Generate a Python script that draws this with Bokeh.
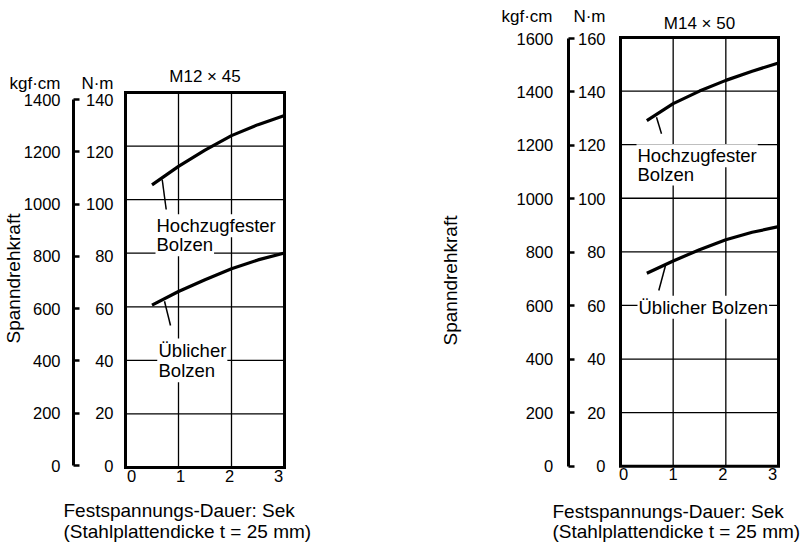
import math
from bokeh.plotting import figure
from bokeh.models import Range1d, LinearAxis, FixedTicker, Label
from bokeh.layouts import row
from bokeh.embed import file_html
from bokeh.resources import INLINE

FONT = "Liberation Sans"

# ---------------- data ----------------
time_s = [0.5, 1.0, 1.5, 2.0, 2.5, 3.0]
m12_high_nm = [105.5, 112.4, 118.5, 123.9, 128.0, 131.4]
m12_std_nm = [60.6, 65.7, 70.1, 74.2, 77.5, 80.1]
m14_high_nm = [129.0, 135.3, 140.0, 144.0, 147.4, 150.5]
m14_std_nm = [72.0, 76.6, 80.8, 84.5, 87.3, 89.4]

x_ticks = [0, 1, 2, 3]
m12_nm_ticks = [0, 20, 40, 60, 80, 100, 120, 140]
m12_kgf_ticks = [0, 200, 400, 600, 800, 1000, 1200, 1400]
m14_nm_ticks = [0, 20, 40, 60, 80, 100, 120, 140, 160]
m14_kgf_ticks = [0, 200, 400, 600, 800, 1000, 1200, 1400, 1600]

titles = ["M12 \u00d7 45", "M14 \u00d7 50"]
unit_kgf = "kgf\u00b7cm"
unit_nm = "N\u00b7m"
y_label = "Spanndrehkraft"
x_label_1 = "Festspannungs-Dauer: Sek"
x_label_2 = "(Stahlplattendicke t = 25 mm)"
lbl_high = ["Hochzugfester", "Bolzen"]
lbl_std = ["\u00dcblicher", "Bolzen"]

H = 545


def make_panel(cfg, nm_ticks, kgf_ticks, high, std, title):
    ox, W = cfg["origin"], cfg["W"]
    L, R, T, B = cfg["box"]
    ymax = nm_ticks[-1]
    xmax = x_ticks[-1]
    sx = (R - L) / xmax
    sy = (B - T) / ymax

    def X(px):
        return (px - L) / sx

    def Y(py):
        return (B - py) / sy

    p = figure(width=W, height=H,
               x_range=Range1d(X(ox), X(ox + W)), y_range=Range1d(Y(H), Y(0)),
               x_axis_location=None, y_axis_location=None,
               output_backend="svg", toolbar_location=None,
               min_border_left=0, min_border_right=0, min_border_top=0, min_border_bottom=0)
    p.background_fill_color = "white"
    p.border_fill_color = "white"
    p.outline_line_color = None
    p.grid.visible = False

    # scales used by the tick labels
    o0, oT = cfg["outer"]
    so = (o0 - oT) / ymax
    xt0, xt3 = cfg["xt"]
    sxt = (xt3 - xt0) / xmax
    p.extra_y_ranges = {
        "nm": Range1d((o0 - H) / so, o0 / so),
        "kgf": Range1d((o0 - H) / so * 10, o0 / so * 10),
    }
    p.extra_x_ranges = {"xt": Range1d((ox - xt0) / sxt, (ox + W - xt0) / sxt)}

    # grid lines inside the box
    inner_x = x_ticks[1:-1]
    inner_y = nm_ticks[1:-1]
    p.segment(x0=inner_x, y0=[0] * len(inner_x), x1=inner_x, y1=[ymax] * len(inner_x),
              line_color="black", line_width=1.3)
    p.segment(x0=[0] * len(inner_y), y0=inner_y, x1=[xmax] * len(inner_y), y1=inner_y,
              line_color="black", line_width=1.3)

    # curves
    p.line(time_s, high, line_width=3.2, line_color="black", line_join="round")
    p.line(time_s, std, line_width=3.2, line_color="black", line_join="round")

    # plot box
    p.quad(left=[x_ticks[0]], right=[xmax], bottom=[nm_ticks[0]], top=[ymax],
           fill_color=None, line_color="black", line_width=3, line_join="miter")

    # leader lines (annotation pointers)
    for (ax0, ay0, ax1, ay1) in cfg["leaders"]:
        p.segment(x0=[X(ax0)], y0=[Y(ay0)], x1=[X(ax1)], y1=[Y(ay1)],
                  line_color="black", line_width=1.5)

    # axes
    ax_x = LinearAxis(x_range_name="xt", fixed_location=0, ticker=FixedTicker(ticks=x_ticks),
                      axis_line_color=None, major_tick_line_color=None,
                      minor_tick_line_color=None, major_tick_in=0, major_tick_out=0,
                      major_label_standoff=2, major_label_text_font=FONT,
                      major_label_text_font_size="16.5px", major_label_text_color="black")
    p.add_layout(ax_x, "below")

    ax_nm = LinearAxis(y_range_name="nm", fixed_location=0, ticker=FixedTicker(ticks=nm_ticks),
                       axis_line_color=None, major_tick_line_color=None,
                       minor_tick_line_color=None, major_tick_out=0, major_tick_in=0,
                       major_label_standoff=cfg["nm_standoff"],
                       major_label_text_font=FONT, major_label_text_font_size="16.5px",
                       major_label_text_color="black")
    p.add_layout(ax_nm, "left")

    ax_kgf = LinearAxis(y_range_name="kgf", fixed_location=X(cfg["outer_x"]),
                        ticker=FixedTicker(ticks=kgf_ticks),
                        bounds=(kgf_ticks[0], kgf_ticks[-1]),
                        axis_line_color="black", axis_line_width=3,
                        major_tick_line_color="black", major_tick_line_width=2.5,
                        major_tick_in=6, major_tick_out=0,
                        minor_tick_line_color=None,
                        major_label_standoff=cfg["kgf_standoff"],
                        major_label_text_font=FONT, major_label_text_font_size="16.5px",
                        major_label_text_color="black")
    p.add_layout(ax_kgf, "left")

    # curve labels (second line first so the first line's descenders stay visible)
    for (txt, px, py) in reversed(cfg["labels"]):
        p.add_layout(Label(x=X(px), y=Y(py), text=txt, text_font=FONT, text_font_size="18.5px",
                           text_color="black", text_align="left", text_baseline="middle",
                           background_fill_color="white", padding=1))

    # title
    tx, ty = cfg["title_xy"]
    p.add_layout(Label(x=X(tx), y=Y(ty), text=title, text_font=FONT, text_font_size="17px",
                       text_color="black", text_align="center", text_baseline="middle"))

    # unit headers
    kx, nx, uy = cfg["units"]
    p.add_layout(Label(x=X(kx), y=Y(uy), text=unit_kgf, text_font=FONT, text_font_size="17px",
                       text_color="black", text_align="right", text_baseline="middle"))
    p.add_layout(Label(x=X(nx), y=Y(uy), text=unit_nm, text_font=FONT, text_font_size="17px",
                       text_color="black", text_align="right", text_baseline="middle"))

    # y label
    yx, yy = cfg["ylab"]
    p.add_layout(Label(x=X(yx), y=Y(yy), text=y_label, angle=math.pi / 2, text_font=FONT,
                       text_font_size="19px", text_color="black", text_align="center",
                       text_baseline="middle"))
    # x label (two lines, left aligned)
    lx, lc1, lc2 = cfg["xlab"]
    p.add_layout(Label(x=X(lx), y=Y(lc1), text=x_label_1, text_font=FONT, text_font_size="19px",
                       text_color="black", text_align="left", text_baseline="middle"))
    p.add_layout(Label(x=X(lx), y=Y(lc2), text=x_label_2, text_font=FONT, text_font_size="19px",
                       text_color="black", text_align="left", text_baseline="middle"))
    return p


# layout geometry in page pixels
cfg1 = dict(origin=0, W=430, box=(125, 284, 92, 467),
            outer=(465, 99), outer_x=73, xt=(131, 278),
            nm_standoff=12, kgf_standoff=13,
            leaders=[(161.7, 179, 165.7, 209), (164, 300.7, 170, 325)],
            labels=[(lbl_high[0], 155, 225.2), (lbl_high[1], 155, 244.2),
                    (lbl_std[0], 157, 349.5), (lbl_std[1], 157, 370.2)],
            title_xy=(204.5, 76), units=(60, 113, 83), ylab=(13, 278),
            xlab=(63, 510, 531))

cfg2 = dict(origin=430, W=380, box=(620, 778, 37, 465.7),
            outer=(465.7, 38), outer_x=567.7, xt=(623, 772),
            nm_standoff=15, kgf_standoff=15,
            leaders=[(656, 116.7, 661, 133.3), (665, 265, 658.3, 290)],
            labels=[(lbl_high[0], 636, 155.2), (lbl_high[1], 636, 173.5),
                    (lbl_std[0] + " " + lbl_std[1], 637, 306.8)],
            title_xy=(699, 23), units=(552, 605, 16), ylab=(450, 280),
            xlab=(552, 510.5, 531))

p1 = make_panel(cfg1, m12_nm_ticks, m12_kgf_ticks, m12_high_nm, m12_std_nm, titles[0])
p2 = make_panel(cfg2, m14_nm_ticks, m14_kgf_ticks, m14_high_nm, m14_std_nm, titles[1])
layout = row(p1, p2)

open("out.html", "w").write(file_html(layout, INLINE))
